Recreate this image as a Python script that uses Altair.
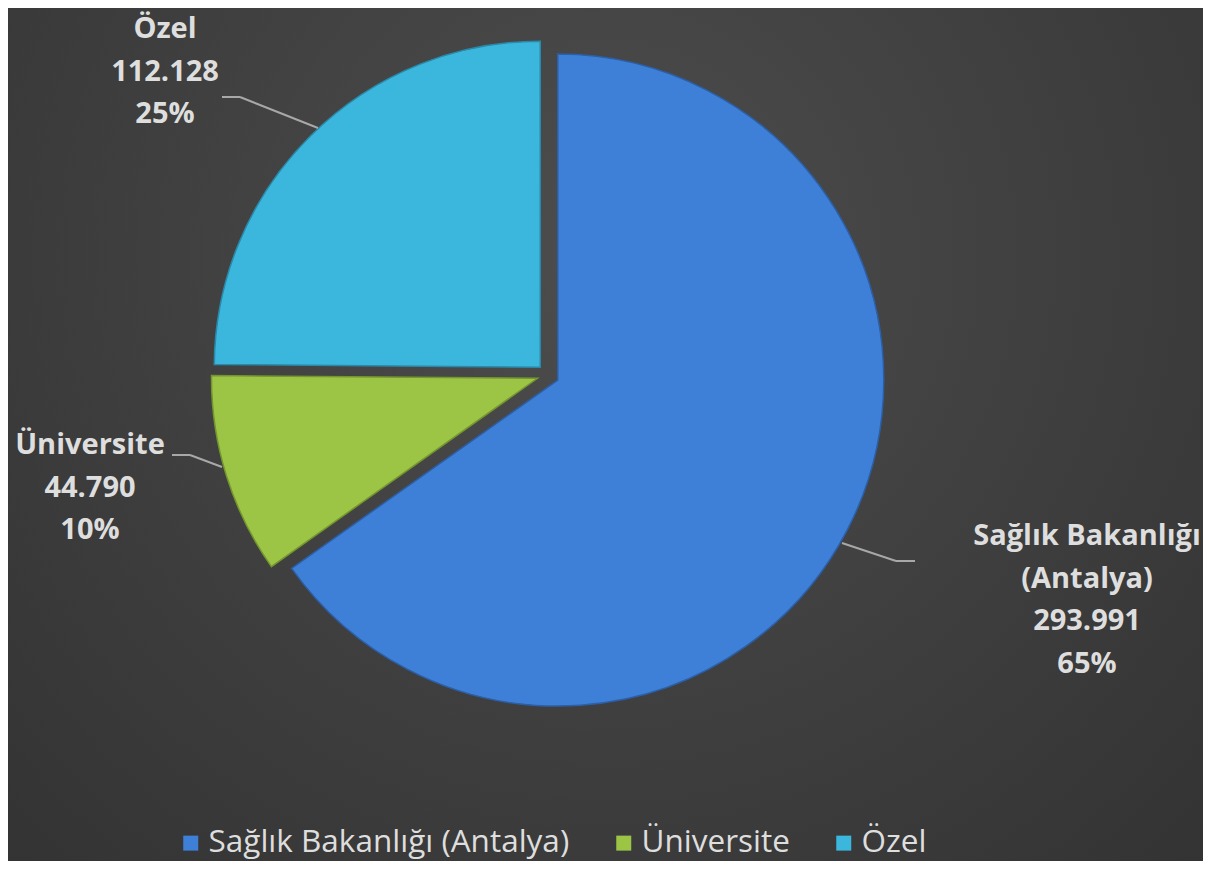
import altair as alt
import pandas as pd

# ---- data ----
categories = ["Sağlık Bakanlığı (Antalya)", "Üniversite", "Özel"]
values = [293991, 44790, 112128]
orders = [0, 1, 2]
colors = ["#3e80d8", "#9cc545", "#3bb7de"]
edge_colors = ["#2c5fa6", "#74962e", "#2a89a8"]

# ---- layout constants ----
W, H = 1195, 853
CX, CY = 540, 367
R = 326
EXPLODE = 11
TEXT_COLOR = "#dedede"
FONT = "Open Sans"

df = pd.DataFrame({"category": categories, "value": values, "order": orders})

base = (
    alt.Chart(df)
    .transform_joinaggregate(total="sum(value)")
    .transform_window(cum="sum(value)", sort=[alt.SortField("order")], frame=[None, 0])
    .transform_calculate(
        t0="2*PI*(datum.cum - datum.value)/datum.total",
        t1="2*PI*datum.cum/datum.total",
    )
    .transform_calculate(mid="(datum.t0 + datum.t1)/2")
    .transform_calculate(
        cx=f"{CX} + {EXPLODE}*sin(datum.mid)",
        cy=f"{CY} - {EXPLODE}*cos(datum.mid)",
        label="replace(datum.category, ' (', '\\n(') + '\\n' + "
              "replace(format(datum.value, ','), ',', '.') + '\\n' + "
              "format(datum.value/datum.total, '.0%')",
    )
)

background = alt.Chart(alt.Data(values=[{}])).mark_rect(
    fill=alt.RadialGradient(
        gradient="radial",
        stops=[
            alt.GradientStop(offset=0, color="#4d4d4d"),
            alt.GradientStop(offset=1, color="#2e2e2e"),
        ],
        x1=0.5, y1=0.35, r1=0, x2=0.5, y2=0.35, r2=0.85,
    )
).encode(x=alt.value(0), x2=alt.value(W), y=alt.value(0), y2=alt.value(H))

arcs = base.mark_arc(outerRadius=R, strokeWidth=1.5).encode(
    theta=alt.Theta("t0:Q", scale=None, stack=None),
    theta2="t1:Q",
    x=alt.X("cx:Q", scale=None),
    y=alt.Y("cy:Q", scale=None),
    color=alt.Color(
        "category:N",
        scale=alt.Scale(domain=categories, range=colors),
        legend=alt.Legend(
            orient="none", legendX=167, legendY=819, direction="horizontal",
            title=None, labelFont=FONT, labelFontSize=31.5, labelColor=TEXT_COLOR,
            symbolType="square", symbolSize=225, symbolStrokeWidth=0,
            columnPadding=38, labelLimit=800, padding=0, labelOffset=2,
        ),
    ),
    stroke=alt.Stroke(
        "category:N", scale=alt.Scale(domain=categories, range=edge_colors), legend=None
    ),
    order=alt.Order("order:Q"),
)

# leader lines (annotation layout)
leaders = [
    [(310, 120), (232, 89), (214, 89)],
    [(214, 459), (182, 447), (164, 447)],
    [(834, 535), (888, 553), (907, 553)],
]
rules = []
for pts in leaders:
    for (xa, ya), (xb, yb) in zip(pts[:-1], pts[1:]):
        rules.append(
            alt.Chart(alt.Data(values=[{}])).mark_rule(color="#a8a8a8", strokeWidth=2).encode(
                x=alt.value(xa), y=alt.value(ya), x2=alt.value(xb), y2=alt.value(yb)
            )
        )

# position of the first line of each label block
label_pos = {
    "Özel": (157, 21),
    "Üniversite": (82, 437),
    "Sağlık Bakanlığı (Antalya)": (1079, 528),
}
texts = []
for cat, (lx, ly) in label_pos.items():
    texts.append(
        base.transform_filter(alt.FieldEqualPredicate(field="category", equal=cat))
        .mark_text(font=FONT, fontSize=29, fontWeight="bold", color=TEXT_COLOR,
                   lineBreak="\n", lineHeight=42.5, align="center", baseline="middle")
        .encode(text="label:N", x=alt.value(lx), y=alt.value(ly))
    )

chart = (
    alt.layer(background, arcs, *rules, *texts)
    .properties(
        width=W, height=H, padding=0,
        autosize=alt.AutoSizeParams(type="fit", contains="padding"),
        background="#3a3a3a",
    )
    .configure_view(stroke=None)
)

chart.save("out.html", embed_options={"renderer": "svg", "actions": False})
